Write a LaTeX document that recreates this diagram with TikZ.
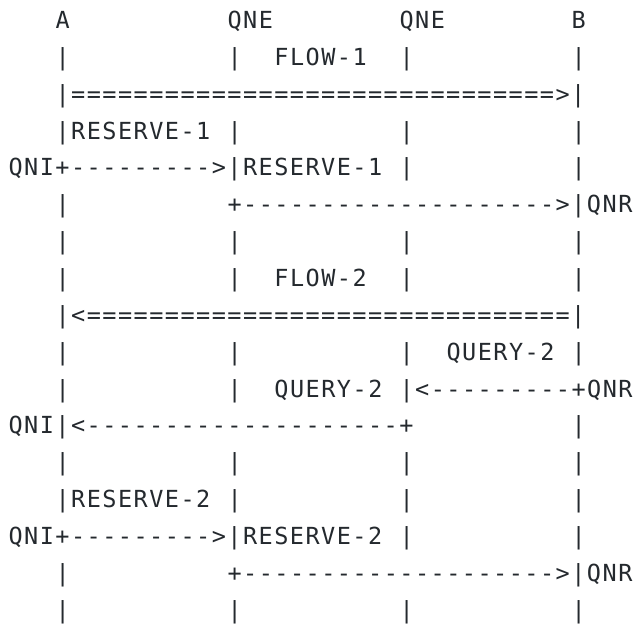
\documentclass[tikz,border=0pt]{standalone}
\usepackage{fontspec}
\setmonofont{DejaVu Sans Mono}[LetterSpace=6.3]
\definecolor{ink}{RGB}{36,41,46}
\tikzset{seg/.style={anchor=base west,inner sep=0pt,outer sep=0pt,text=ink,
  font=\ttfamily\fontsize{23.5}{23.5}\selectfont}}
\newcommand\seg[4]{\node[seg] (#1) at ({8.6+#2*15.64},{-28.5-36.85*#3}) {#4};}
\newcommand\lifes[2]{%
  \seg{#1a}{3}{#2}{|}\seg{#1b}{14}{#2}{|}\seg{#1c}{25}{#2}{|}\seg{#1d}{36}{#2}{|}}
\newcommand\eqfive{=====}
\newcommand\eqrun{\eqfive\eqfive\eqfive\eqfive\eqfive\eqfive=}% 31
\begin{document}
\begin{tikzpicture}[x=1pt,y=1pt]
\useasboundingbox (0,0) rectangle (636,-626);
% row 0
\seg{hA}{3}{0}{A}\seg{hQa}{14}{0}{QNE}\seg{hQb}{25}{0}{QNE}\seg{hB}{36}{0}{B}
% row 1
\seg{r1a}{3}{1}{|}\seg{r1b}{14}{1}{|}\seg{r1f}{17}{1}{FLOW-1}\seg{r1c}{25}{1}{|}\seg{r1d}{36}{1}{|}
% row 2
\seg{r2}{3}{2}{|\eqrun>|}
% row 3
\seg{r3a}{3}{3}{|RESERVE-1}\seg{r3b}{14}{3}{|}\seg{r3c}{25}{3}{|}\seg{r3d}{36}{3}{|}
% row 4
\seg{r4a}{0}{4}{QNI+--------->|RESERVE-1}\seg{r4c}{25}{4}{|}\seg{r4d}{36}{4}{|}
% row 5
\seg{r5a}{3}{5}{|}\seg{r5b}{14}{5}{+-------------------->|QNR}
% row 6
\lifes{r6}{6}
% row 7
\seg{r7a}{3}{7}{|}\seg{r7b}{14}{7}{|}\seg{r7f}{17}{7}{FLOW-2}\seg{r7c}{25}{7}{|}\seg{r7d}{36}{7}{|}
% row 8
\seg{r8}{3}{8}{|<\eqrun|}
% row 9
\seg{r9a}{3}{9}{|}\seg{r9b}{14}{9}{|}\seg{r9c}{25}{9}{|}\seg{r9q}{28}{9}{QUERY-2}\seg{r9d}{36}{9}{|}
% row 10
\seg{r10a}{3}{10}{|}\seg{r10b}{14}{10}{|}\seg{r10q}{17}{10}{QUERY-2}\seg{r10c}{25}{10}{|<---------+QNR}
% row 11
\seg{r11a}{0}{11}{QNI|<--------------------+}\seg{r11d}{36}{11}{|}
% row 12
\lifes{r12}{12}
% row 13
\seg{r13a}{3}{13}{|RESERVE-2}\seg{r13b}{14}{13}{|}\seg{r13c}{25}{13}{|}\seg{r13d}{36}{13}{|}
% row 14
\seg{r14a}{0}{14}{QNI+--------->|RESERVE-2}\seg{r14c}{25}{14}{|}\seg{r14d}{36}{14}{|}
% row 15
\seg{r15a}{3}{15}{|}\seg{r15b}{14}{15}{+-------------------->|QNR}
% row 16
\lifes{r16}{16}
\end{tikzpicture}
\end{document}
